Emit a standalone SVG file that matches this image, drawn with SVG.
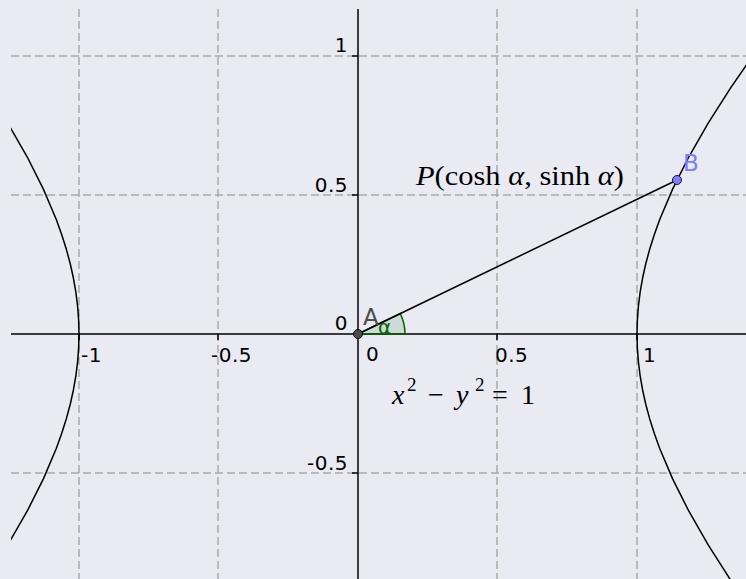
<svg xmlns="http://www.w3.org/2000/svg" width="746" height="579" viewBox="0 0 746 579">
<defs>
<clipPath id="plot"><rect x="11" y="9" width="735" height="570"/></clipPath>
<style>
.grid{stroke:#aaaaaa;stroke-width:1.5;stroke-dasharray:8,4;fill:none}
.axis{stroke:#000;stroke-width:1.5;fill:none}
.curve{stroke:#000;stroke-width:1.5;fill:none;stroke-linejoin:round}
.tick{font-family:"DejaVu Sans",sans-serif;font-size:20px;fill:#000;letter-spacing:0.5px}
.math{font-family:"Liberation Serif","DejaVu Serif",serif;font-size:28px;fill:#000}
.sup{font-size:19px}
</style>
</defs>
<rect width="746" height="579" fill="#eaeaf2"/>
<g id="grid">
<line class="grid" x1="79" y1="9" x2="79" y2="579"/>
<line class="grid" x1="218" y1="9" x2="218" y2="579"/>
<line class="grid" x1="497" y1="9" x2="497" y2="579"/>
<line class="grid" x1="637" y1="9" x2="637" y2="579"/>
<line class="grid" x1="11" y1="56" x2="746" y2="56"/>
<line class="grid" x1="11" y1="195" x2="746" y2="195"/>
<line class="grid" x1="11" y1="473" x2="746" y2="473"/>
</g>
<g id="axes">
<line class="axis" x1="11" y1="334" x2="746" y2="334"/>
<line class="axis" x1="358" y1="9" x2="358" y2="579"/>
<path class="axis" d="M79,334V340M218,334V340M497,334V340M637,334V340M352,56H358M352,195H358M352,473H358"/>
</g>
<g id="tick-labels" class="tick">
<text x="81" y="362">-1</text>
<text x="211" y="362">-0.5</text>
<text x="495" y="362">0.5</text>
<text x="643" y="362">1</text>
<text x="366" y="361">0</text>
<text x="348" y="330" text-anchor="end">0</text>
<text x="348" y="52" text-anchor="end">1</text>
<text x="348" y="192" text-anchor="end">0.5</text>
<text x="348" y="470" text-anchor="end">-0.5</text>
</g>
<g id="hyperbola" clip-path="url(#plot)">
<polyline class="curve" points="757.83,48.63 731.14,87.11 708.19,123.11 688.74,157.01 672.61,189.14 659.62,219.81 654.26,234.70 649.65,249.34 645.76,263.77 642.60,278.03 640.14,292.14 638.40,306.15 637.35,320.09 637,334 637.35,347.91 638.40,361.85 640.14,375.86 642.60,389.97 645.76,404.23 649.65,418.66 654.26,433.30 659.62,448.19 672.61,478.86 688.74,510.99 708.19,544.89 731.14,580.89 757.83,619.37"/>
<polyline class="curve" points="-41.83,48.63 -15.14,87.11 7.81,123.11 27.26,157.01 43.39,189.14 56.38,219.81 61.74,234.70 66.35,249.34 70.24,263.77 73.40,278.03 75.86,292.14 77.60,306.15 78.65,320.09 79,334 78.65,347.91 77.60,361.85 75.86,375.86 73.40,389.97 70.24,404.23 66.35,418.66 61.74,433.30 56.38,448.19 43.39,478.86 27.26,510.99 7.81,544.89 -15.14,580.89 -41.83,619.37"/>
</g>
<g id="angle">
<path d="M358,334 L405,334 A47,47 0 0 0 400.3,313.6 Z" fill="#006400" fill-opacity="0.12" stroke="#006400" stroke-width="1.5"/>
<text x="378" y="334" font-family="DejaVu Sans,sans-serif" font-size="20" fill="#006400">α</text>
</g>
<g id="connectors">
<line class="curve" x1="358" y1="334" x2="677" y2="180"/>
</g>
<g id="A">
<circle cx="358" cy="334" r="4.5" fill="#4d4d4d" stroke="#000" stroke-width="1"/>
<text x="363" y="325" font-family="DejaVu Sans,sans-serif" font-size="23" fill="#4d4d4d">A</text>
</g>
<g id="B">
<circle cx="677" cy="180" r="4.5" fill="#7d7dff" stroke="#1a1a1a" stroke-width="1"/>
<text x="683" y="171" font-family="DejaVu Sans,sans-serif" font-size="23" fill="#7d7dff">B</text>
</g>
<g id="labels">
<text class="math" x="416" y="185" textLength="208" lengthAdjust="spacingAndGlyphs"><tspan font-style="italic">P</tspan>(cosh <tspan font-style="italic">α</tspan>, sinh <tspan font-style="italic">α</tspan>)</text>
<text class="math" y="404"><tspan x="392" font-style="italic">x</tspan><tspan x="407" y="391" class="sup">2</tspan><tspan x="428" y="404">−</tspan><tspan x="456" font-style="italic">y</tspan><tspan x="475" y="391" class="sup">2</tspan><tspan x="492" y="404">=</tspan><tspan x="521">1</tspan></text>
</g>
</svg>
